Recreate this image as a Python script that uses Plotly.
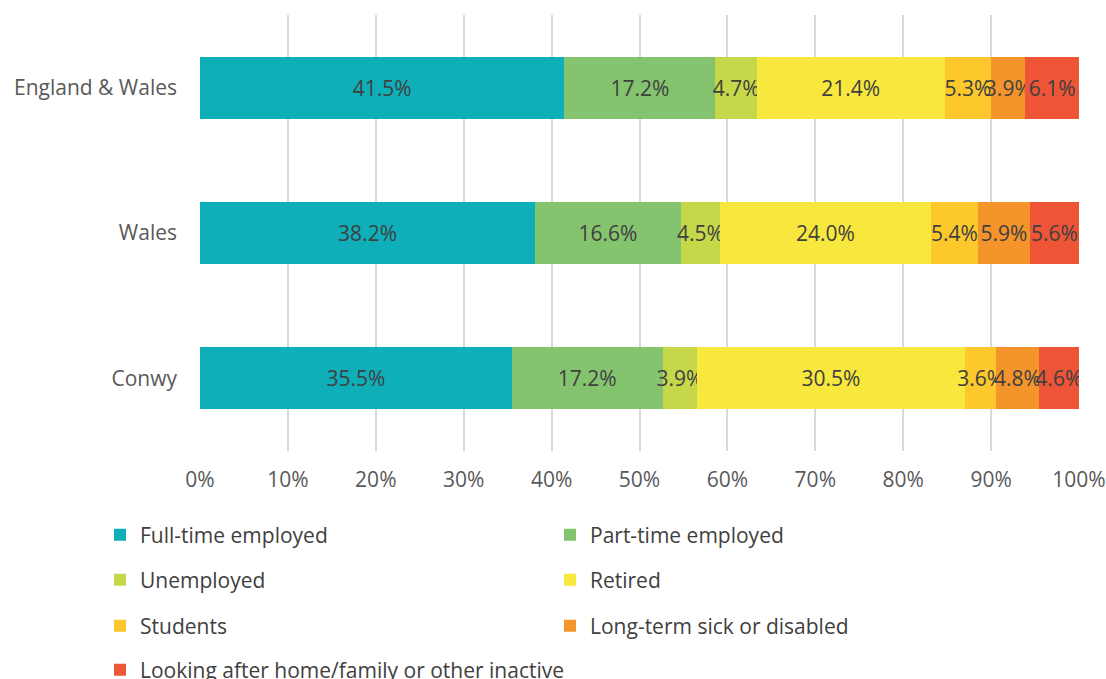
import plotly.graph_objects as go

regions = ["England & Wales", "Wales", "Conwy"]
series_names = [
    "Full-time employed",
    "Part-time employed",
    "Unemployed",
    "Retired",
    "Students",
    "Long-term sick or disabled",
    "Looking after home/family or other inactive",
]
full_time = [41.5, 38.2, 35.5]
part_time = [17.2, 16.6, 17.2]
unemployed = [4.7, 4.5, 3.9]
retired = [21.4, 24.0, 30.5]
students = [5.3, 5.4, 3.6]
sick = [3.9, 5.9, 4.8]
home = [6.1, 5.6, 4.6]
series_values = [full_time, part_time, unemployed, retired, students, sick, home]
colors = ["#0FAFBA", "#84C46E", "#C6D84A", "#F8E73C", "#FCC82C", "#F4942B", "#EE5436"]
tick_vals = list(range(0, 101, 10))
tick_text = [f"{v}%" for v in tick_vals]

FONT = "Open Sans"
FS = 21
legend_ids = ["legend", "legend", "legend2", "legend2", "legend3", "legend3", "legend4"]

fig = go.Figure()
for name, vals, col, lg in zip(series_names, series_values, colors, legend_ids):
    fig.add_trace(go.Bar(
        name=name, y=regions, x=vals, orientation="h",
        marker=dict(color=col, line=dict(width=0)),
        text=vals, texttemplate="%{text:.1f}%", textposition="inside",
        insidetextanchor="middle", textangle=0, constraintext="none",
        textfont=dict(family=FONT, size=FS, color="#404040"),
        legend=lg,
    ))

# figure is slightly taller than the window so the last legend row is
# cropped like in the reference; page margins/scrollbars removed below
W, H = 1106, 710
ML, MR, MT = 200, 27, 15
MB = H - 451
plot_h = H - MT - MB
leg_x = (100 - ML) / (W - ML - MR)


def row_y(win_y):
    return (H - MB - win_y) / plot_h


leg_common = dict(orientation="h", x=leg_x, xanchor="left", yanchor="middle",
                  entrywidth=405, entrywidthmode="pixels",
                  font=dict(family=FONT, size=FS, color="#404040"),
                  bgcolor="rgba(0,0,0,0)", traceorder="normal")
rows_y = [535, 580, 626, 670]

fig.update_layout(
    barmode="stack",
    barnorm="percent",
    bargap=0.575,
    width=W, height=H,
    margin=dict(l=ML, r=MR, t=MT, b=MB),
    paper_bgcolor="white", plot_bgcolor="white",
    font=dict(family=FONT, size=FS, color="#595959"),
    xaxis=dict(range=[0, 100], tickvals=tick_vals, ticktext=tick_text, showgrid=True,
               gridcolor="#D9D9D9", gridwidth=1.5, zeroline=False, showline=False,
               automargin=False,
               ticklabelstandoff=14, tickfont=dict(family=FONT, size=FS, color="#595959")),
    yaxis=dict(categoryorder="array", categoryarray=regions[::-1], showgrid=False,
               automargin=False,
               ticklabelstandoff=22, tickfont=dict(family=FONT, size=FS, color="#595959")),
    showlegend=True,
    legend=dict(leg_common, y=row_y(rows_y[0])),
    legend2=dict(leg_common, y=row_y(rows_y[1])),
    legend3=dict(leg_common, y=row_y(rows_y[2])),
    legend4=dict(leg_common, y=row_y(rows_y[3]), entrywidth=700),
)

fig.write_html(
    "out.html",
    config={"displayModeBar": False},
    post_script="document.body.style.margin='0';document.body.style.overflow='hidden';"
                "document.documentElement.style.overflow='hidden';",
)
